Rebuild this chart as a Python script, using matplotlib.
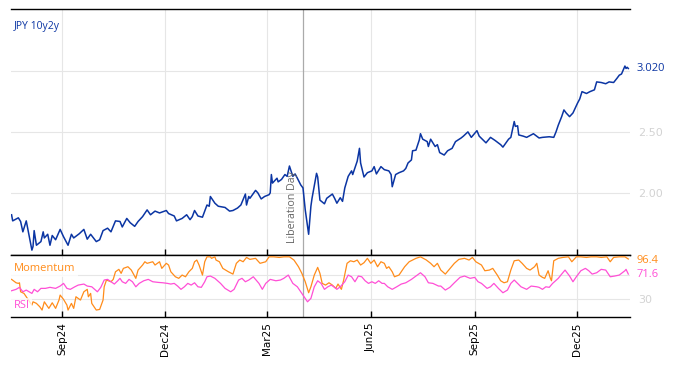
import numpy as np
import pandas as pd
import matplotlib
matplotlib.use("Agg")
import matplotlib.pyplot as plt
import matplotlib.dates as mdates

# JPY 10y2y curve
price_dates = [
    "2024-07-18", "2024-07-19", "2024-07-24", "2024-07-26", "2024-07-28", "2024-07-31",
    "2024-08-05", "2024-08-06", "2024-08-07", "2024-08-09", "2024-08-13", "2024-08-15",
    "2024-08-16", "2024-08-19", "2024-08-21", "2024-08-23", "2024-08-26", "2024-08-30",
    "2024-09-02", "2024-09-06", "2024-09-09", "2024-09-11", "2024-09-16", "2024-09-20",
    "2024-09-23", "2024-09-26", "2024-10-01", "2024-10-04", "2024-10-07", "2024-10-11",
    "2024-10-14", "2024-10-18", "2024-10-22", "2024-10-24", "2024-10-28", "2024-10-31",
    "2024-11-04", "2024-11-07", "2024-11-11", "2024-11-15", "2024-11-18", "2024-11-22",
    "2024-11-26", "2024-12-02", "2024-12-04", "2024-12-09", "2024-12-11", "2024-12-16",
    "2024-12-20", "2024-12-23", "2024-12-25", "2024-12-27", "2024-12-30", "2025-01-03",
    "2025-01-07", "2025-01-09", "2025-01-10", "2025-01-14", "2025-01-17", "2025-01-23",
    "2025-01-27", "2025-01-30", "2025-02-03", "2025-02-06", "2025-02-10", "2025-02-11",
    "2025-02-13", "2025-02-14", "2025-02-19", "2025-02-21", "2025-02-24", "2025-02-27",
    "2025-03-03", "2025-03-04", "2025-03-05", "2025-03-06", "2025-03-10", "2025-03-11",
    "2025-03-14", "2025-03-17", "2025-03-19", "2025-03-21", "2025-03-24", "2025-03-26",
    "2025-03-28", "2025-03-31", "2025-04-02", "2025-04-04", "2025-04-07", "2025-04-09",
    "2025-04-10", "2025-04-14", "2025-04-15", "2025-04-17", "2025-04-21", "2025-04-23",
    "2025-04-28", "2025-04-30", "2025-05-02", "2025-05-05", "2025-05-07", "2025-05-09",
    "2025-05-12", "2025-05-15", "2025-05-16", "2025-05-20", "2025-05-22", "2025-05-23",
    "2025-05-26", "2025-05-29", "2025-06-02", "2025-06-04", "2025-06-06", "2025-06-10",
    "2025-06-13", "2025-06-17", "2025-06-19", "2025-06-20", "2025-06-23", "2025-06-26",
    "2025-06-30", "2025-07-02", "2025-07-04", "2025-07-07", "2025-07-08", "2025-07-11",
    "2025-07-14", "2025-07-15", "2025-07-17", "2025-07-21", "2025-07-22", "2025-07-24",
    "2025-07-28", "2025-07-30", "2025-08-01", "2025-08-05", "2025-08-08", "2025-08-12",
    "2025-08-15", "2025-08-20", "2025-08-22", "2025-08-26", "2025-08-29", "2025-09-03",
    "2025-09-05", "2025-09-11", "2025-09-15", "2025-09-19", "2025-09-24", "2025-09-26",
    "2025-10-01", "2025-10-03", "2025-10-06", "2025-10-07", "2025-10-09", "2025-10-10",
    "2025-10-14", "2025-10-17", "2025-10-23", "2025-10-28", "2025-10-31", "2025-11-06",
    "2025-11-10", "2025-11-12", "2025-11-14", "2025-11-17", "2025-11-19", "2025-11-21",
    "2025-11-24", "2025-11-27", "2025-12-01", "2025-12-03", "2025-12-05", "2025-12-09",
    "2025-12-12", "2025-12-16", "2025-12-18", "2025-12-22", "2025-12-26", "2025-12-29",
    "2026-01-02", "2026-01-05", "2026-01-07", "2026-01-09", "2026-01-12", "2026-01-13",
    "2026-01-14", "2026-01-15",
]
price_vals = [
    1.82, 1.77, 1.795, 1.765, 1.68, 1.77,
    1.53, 1.56, 1.69, 1.57, 1.60, 1.68,
    1.63, 1.66, 1.57, 1.65, 1.615, 1.70,
    1.64, 1.57, 1.66, 1.63, 1.665, 1.70,
    1.62, 1.66, 1.60, 1.615, 1.69, 1.71,
    1.68, 1.77, 1.765, 1.72, 1.79, 1.755,
    1.725, 1.765, 1.805, 1.86, 1.82, 1.85,
    1.835, 1.855, 1.83, 1.81, 1.77, 1.79,
    1.82, 1.78, 1.805, 1.855, 1.81, 1.80,
    1.90, 1.89, 1.97, 1.915, 1.89, 1.88,
    1.85, 1.855, 1.875, 1.90, 1.99, 1.90,
    1.97, 1.955, 2.02, 2.00, 1.95, 1.97,
    1.985, 2.00, 2.15, 2.08, 2.12, 2.09,
    2.11, 2.15, 2.135, 2.22, 2.135, 2.155,
    2.12, 2.065, 2.04, 1.86, 1.66, 1.89,
    1.955, 2.16, 2.13, 1.94, 1.91, 1.955,
    1.99, 1.955, 1.915, 1.96, 1.93, 2.04,
    2.135, 2.18, 2.15, 2.26, 2.365, 2.245,
    2.13, 2.165, 2.18, 2.215, 2.155, 2.215,
    2.19, 2.18, 2.15, 2.05, 2.15, 2.165,
    2.18, 2.20, 2.245, 2.27, 2.345, 2.35,
    2.435, 2.485, 2.44, 2.42, 2.38, 2.44,
    2.38, 2.395, 2.33, 2.31, 2.345, 2.365,
    2.42, 2.45, 2.465, 2.50, 2.455, 2.51,
    2.465, 2.41, 2.455, 2.43, 2.395, 2.375,
    2.44, 2.455, 2.585, 2.545, 2.55, 2.475,
    2.465, 2.455, 2.485, 2.45, 2.455, 2.46,
    2.455, 2.50, 2.555, 2.625, 2.68, 2.655,
    2.625, 2.655, 2.735, 2.77, 2.83, 2.815,
    2.83, 2.845, 2.91, 2.905, 2.895, 2.91,
    2.905, 2.94, 2.965, 2.975, 3.04, 3.02,
    3.03, 3.02,
]

# Momentum oscillator
mom_dates = [
    "2024-07-18", "2024-07-22", "2024-07-24", "2024-07-25", "2024-07-26", "2024-07-29",
    "2024-07-31", "2024-08-05", "2024-08-06", "2024-08-09", "2024-08-12", "2024-08-14",
    "2024-08-16", "2024-08-20", "2024-08-23", "2024-08-26", "2024-08-29", "2024-08-30",
    "2024-09-02", "2024-09-05", "2024-09-06", "2024-09-09", "2024-09-11", "2024-09-13",
    "2024-09-17", "2024-09-20", "2024-09-23", "2024-09-24", "2024-09-26", "2024-09-27",
    "2024-10-01", "2024-10-04", "2024-10-07", "2024-10-08", "2024-10-10", "2024-10-14",
    "2024-10-16", "2024-10-18", "2024-10-21", "2024-10-23", "2024-10-25", "2024-10-29",
    "2024-11-01", "2024-11-05", "2024-11-07", "2024-11-11", "2024-11-13", "2024-11-15",
    "2024-11-20", "2024-11-22", "2024-11-26", "2024-11-28", "2024-12-02", "2024-12-04",
    "2024-12-06", "2024-12-10", "2024-12-13", "2024-12-16", "2024-12-19", "2024-12-22",
    "2024-12-25", "2024-12-27", "2024-12-29", "2024-12-31", "2025-01-03", "2025-01-05",
    "2025-01-07", "2025-01-10", "2025-01-11", "2025-01-14", "2025-01-15", "2025-01-18",
    "2025-01-21", "2025-01-26", "2025-01-30", "2025-02-02", "2025-02-05", "2025-02-08",
    "2025-02-11", "2025-02-14", "2025-02-19", "2025-02-23", "2025-02-28", "2025-03-03",
    "2025-03-07", "2025-03-12", "2025-03-16", "2025-03-21", "2025-03-25", "2025-03-29",
    "2025-04-01", "2025-04-04", "2025-04-07", "2025-04-09", "2025-04-12", "2025-04-15",
    "2025-04-17", "2025-04-19", "2025-04-22", "2025-04-25", "2025-04-28", "2025-05-01",
    "2025-05-03", "2025-05-06", "2025-05-08", "2025-05-11", "2025-05-14", "2025-05-17",
    "2025-05-20", "2025-05-23", "2025-05-26", "2025-05-29", "2025-06-01", "2025-06-04",
    "2025-06-07", "2025-06-10", "2025-06-13", "2025-06-15", "2025-06-17", "2025-06-20",
    "2025-06-22", "2025-06-26", "2025-07-01", "2025-07-05", "2025-07-11", "2025-07-15",
    "2025-07-20", "2025-07-24", "2025-07-27", "2025-07-30", "2025-08-02", "2025-08-06",
    "2025-08-09", "2025-08-14", "2025-08-18", "2025-08-23", "2025-08-27", "2025-08-30",
    "2025-09-02", "2025-09-07", "2025-09-10", "2025-09-14", "2025-09-17", "2025-09-21",
    "2025-09-24", "2025-09-27", "2025-09-30", "2025-10-03", "2025-10-06", "2025-10-10",
    "2025-10-13", "2025-10-17", "2025-10-20", "2025-10-24", "2025-10-26", "2025-10-28",
    "2025-10-31", "2025-11-02", "2025-11-05", "2025-11-07", "2025-11-08", "2025-11-10",
    "2025-11-14", "2025-11-18", "2025-11-23", "2025-11-26", "2025-11-30", "2025-12-04",
    "2025-12-09", "2025-12-13", "2025-12-18", "2025-12-22", "2025-12-27", "2025-12-30",
    "2026-01-02", "2026-01-07", "2026-01-12", "2026-01-15",
]
mom_vals = [
    62.9, 57.3, 56.3, 57.3, 42.5, 39.8,
    34.3, 20.6, 26.0, 23.4, 17.8, 12.4,
    26.0, 15.2, 24.4, 15.2, 28.9, 37.1,
    30.0, 20.6, 12.4, 23.4, 15.2, 34.3,
    28.9, 42.5, 46.5, 34.3, 39.8, 23.4,
    12.4, 13.5, 28.9, 50.7, 61.8, 59.0,
    62.9, 75.4, 79.4, 72.8, 81.0, 83.7,
    78.2, 64.6, 78.2, 86.5, 91.9, 89.3,
    91.9, 86.5, 91.9, 81.0, 89.3, 86.5,
    75.4, 67.2, 64.6, 70.0, 67.2, 75.4,
    81.0, 91.9, 94.7, 86.5, 70.0, 91.9,
    100.0, 100.0, 97.5, 100.0, 94.7, 91.9,
    81.0, 75.4, 71.6, 89.3, 94.7, 91.9,
    99.0, 95.8, 97.5, 89.3, 91.9, 100.0,
    100.0, 99.0, 100.0, 100.0, 94.7, 83.7,
    72.8, 59.0, 40.9, 50.7, 70.0, 82.6,
    72.8, 56.3, 53.5, 57.3, 53.5, 48.1,
    55.2, 46.5, 61.8, 89.3, 93.5, 91.9,
    94.7, 86.5, 90.3, 97.5, 89.3, 94.7,
    83.7, 91.9, 89.3, 81.0, 83.7, 75.4,
    67.2, 70.0, 83.7, 91.9, 97.5, 100.0,
    95.0, 89.3, 83.7, 89.3, 78.2, 71.6,
    78.2, 89.3, 95.8, 97.5, 94.7, 99.0,
    91.9, 86.5, 77.1, 78.2, 81.0, 70.0,
    60.6, 57.3, 59.0, 78.2, 93.5, 94.7,
    89.3, 81.0, 78.2, 83.7, 89.3, 70.0,
    66.2, 64.6, 77.1, 64.6, 60.6, 93.5,
    97.5, 99.0, 100.0, 91.9, 100.0, 100.0,
    99.0, 100.0, 100.0, 99.0, 100.0, 91.9,
    99.0, 100.0, 100.0, 96.4,
]

# RSI
rsi_dates = [
    "2024-07-18", "2024-07-22", "2024-07-25", "2024-07-28", "2024-07-31", "2024-08-05",
    "2024-08-07", "2024-08-10", "2024-08-13", "2024-08-17", "2024-08-21", "2024-08-26",
    "2024-08-30", "2024-09-02", "2024-09-05", "2024-09-08", "2024-09-12", "2024-09-15",
    "2024-09-20", "2024-09-23", "2024-09-27", "2024-10-02", "2024-10-05", "2024-10-08",
    "2024-10-11", "2024-10-14", "2024-10-17", "2024-10-20", "2024-10-22", "2024-10-24",
    "2024-10-27", "2024-10-30", "2024-11-02", "2024-11-05", "2024-11-08", "2024-11-12",
    "2024-11-16", "2024-11-20", "2024-11-25", "2024-11-29", "2024-12-03", "2024-12-06",
    "2024-12-09", "2024-12-12", "2024-12-15", "2024-12-18", "2024-12-21", "2024-12-24",
    "2024-12-27", "2024-12-30", "2025-01-02", "2025-01-05", "2025-01-07", "2025-01-10",
    "2025-01-14", "2025-01-19", "2025-01-23", "2025-01-28", "2025-01-31", "2025-02-04",
    "2025-02-07", "2025-02-10", "2025-02-13", "2025-02-17", "2025-02-22", "2025-02-25",
    "2025-02-28", "2025-03-04", "2025-03-09", "2025-03-13", "2025-03-16", "2025-03-20",
    "2025-03-24", "2025-03-28", "2025-03-31", "2025-04-03", "2025-04-06", "2025-04-09",
    "2025-04-12", "2025-04-15", "2025-04-18", "2025-04-21", "2025-04-24", "2025-04-27",
    "2025-04-30", "2025-05-02", "2025-05-05", "2025-05-09", "2025-05-12", "2025-05-15",
    "2025-05-18", "2025-05-21", "2025-05-24", "2025-05-27", "2025-05-30", "2025-06-02",
    "2025-06-05", "2025-06-08", "2025-06-11", "2025-06-13", "2025-06-16", "2025-06-20",
    "2025-06-24", "2025-06-28", "2025-07-02", "2025-07-07", "2025-07-11", "2025-07-15",
    "2025-07-19", "2025-07-22", "2025-07-26", "2025-07-31", "2025-08-02", "2025-08-06",
    "2025-08-10", "2025-08-14", "2025-08-19", "2025-08-23", "2025-08-28", "2025-09-01",
    "2025-09-04", "2025-09-07", "2025-09-12", "2025-09-15", "2025-09-18", "2025-09-22",
    "2025-09-26", "2025-09-30", "2025-10-03", "2025-10-06", "2025-10-09", "2025-10-12",
    "2025-10-17", "2025-10-21", "2025-10-26", "2025-10-28", "2025-10-31", "2025-11-03",
    "2025-11-06", "2025-11-09", "2025-11-14", "2025-11-17", "2025-11-20", "2025-11-24",
    "2025-11-27", "2025-11-30", "2025-12-04", "2025-12-08", "2025-12-11", "2025-12-14",
    "2025-12-18", "2025-12-22", "2025-12-26", "2025-12-30", "2026-01-03", "2026-01-07",
    "2026-01-12", "2026-01-13", "2026-01-15",
]
rsi_vals = [
    44.2, 46.5, 49.8, 42.5, 45.3, 39.8,
    46.5, 42.5, 48.1, 48.1, 49.8, 48.1,
    51.9, 56.3, 48.1, 46.5, 50.7, 53.5,
    55.2, 51.9, 50.7, 42.5, 49.8, 61.8,
    62.9, 59.0, 55.2, 60.6, 64.6, 59.0,
    56.3, 62.9, 59.0, 50.7, 56.3, 60.6,
    62.9, 59.0, 57.9, 57.3, 56.3, 55.2,
    56.3, 51.9, 46.5, 50.7, 56.3, 53.5,
    57.3, 50.7, 49.8, 59.0, 67.2, 68.4,
    64.6, 56.3, 48.1, 42.5, 46.5, 61.8,
    64.6, 59.0, 61.8, 67.2, 56.3, 46.5,
    56.3, 62.9, 60.6, 61.8, 64.6, 70.0,
    56.3, 50.7, 42.5, 34.3, 26.0, 31.6,
    50.7, 60.6, 56.3, 46.5, 50.7, 53.5,
    49.8, 46.5, 50.7, 59.0, 70.0, 67.2,
    59.0, 68.4, 67.2, 60.6, 56.3, 59.0,
    56.3, 60.6, 56.3, 56.3, 50.7, 46.5,
    50.7, 55.2, 57.3, 62.9, 68.4, 73.8,
    67.2, 57.3, 56.3, 51.9, 51.9, 45.3,
    49.8, 57.3, 66.2, 68.4, 64.6, 66.2,
    59.0, 56.3, 48.1, 50.7, 56.3, 48.1,
    40.9, 45.3, 56.3, 61.8, 56.3, 50.7,
    46.5, 51.9, 50.7, 49.8, 46.5, 50.7,
    49.8, 56.3, 64.6, 71.6, 78.2, 68.4,
    59.0, 67.2, 77.1, 81.0, 77.1, 71.6,
    73.8, 79.4, 78.2, 67.2, 68.4, 70.0,
    77.1, 79.4, 71.6,
]

event_date = "2025-04-02"
event_label = "Liberation Day"
tick_months = ["2024-09-01", "2024-12-01", "2025-03-01", "2025-06-01", "2025-09-01", "2025-12-01"]

price_dt = pd.to_datetime(price_dates)
mom_dt = pd.to_datetime(mom_dates)
rsi_dt = pd.to_datetime(rsi_dates)
ev_dt = pd.Timestamp(event_date)

blue = "#0b35a3"
orange = "#ff8c1a"
pink = "#ff4fd6"
grid_c = "#e6e6e6"
lab_grey = "#d3d3d3"

fig = plt.figure(figsize=(6.74, 3.66), dpi=100)
ax1 = fig.add_axes([11 / 674, 1 - 255 / 366, 619 / 674, 246 / 366])
ax2 = fig.add_axes([11 / 674, 1 - 317 / 366, 619 / 674, 62 / 366], sharex=ax1)

ax1.plot(price_dt, price_vals, color=blue, lw=1.1, zorder=3)
ax2.plot(mom_dt, mom_vals, color=orange, lw=0.9, zorder=3)
ax2.plot(rsi_dt, rsi_vals, color=pink, lw=0.9, zorder=3)

xmin = price_dt[0] - pd.Timedelta(days=0.5)
xmax = price_dt[-1] + pd.Timedelta(days=1.5)
ax1.set_xlim(xmin, xmax)
ax1.set_ylim(1.49, 3.508)
ax2.set_ylim(1.0, 103.0)

for ax in (ax1, ax2):
    for s in ("left", "right"):
        ax.spines[s].set_visible(False)
    ax.spines["top"].set_linewidth(1.0)
    ax.spines["bottom"].set_linewidth(1.0)
    ax.grid(True, color=grid_c, lw=0.8, zorder=0)
    ax.set_xticks(pd.to_datetime(tick_months))
    ax.xaxis.set_major_formatter(mdates.DateFormatter("%b%y"))
    ax.tick_params(axis="x", direction="in", length=4, width=1, top=False)
    ax.yaxis.tick_right()
    ax.tick_params(axis="y", length=0, labelsize=8, labelcolor=lab_grey, pad=6)
    ax.axvline(ev_dt, color="#aaaaaa", lw=0.9, zorder=2)

ax1.tick_params(axis="x", labelbottom=False)
ax2.tick_params(axis="x", labelrotation=90, labelsize=7.5, pad=4)

# 3.00 gridline label is covered by the last-value label in the reference
ax1.set_yticks([2.0, 2.5, 3.0])
ax1.set_yticklabels(["2.00", "2.50", ""])
ax2.set_yticks([30, 70])
ax2.set_yticklabels(["30", ""])

# last-value labels on the right
ax1.text(1.011, price_vals[-1], f"{price_vals[-1]:.3f}", transform=ax1.get_yaxis_transform(),
         color=blue, fontsize=8, va="center", ha="left", family="Open Sans")
ax2.text(1.011, mom_vals[-1] - 2.0, f"{mom_vals[-1]:.1f}", transform=ax2.get_yaxis_transform(),
         color=orange, fontsize=8, va="center", ha="left", family="Open Sans")
ax2.text(1.011, rsi_vals[-1] - 0.5, f"{rsi_vals[-1]:.1f}", transform=ax2.get_yaxis_transform(),
         color=pink, fontsize=8, va="center", ha="left", family="Open Sans")

# series titles
ax1.text(0.004, 0.93, "JPY 10y2y", transform=ax1.transAxes, color=blue, fontsize=7.5,
         family="Open Sans", va="center", ha="left")
ax2.text(0.004, 0.79, "Momentum", transform=ax2.transAxes, color=orange, fontsize=8,
         family="Open Sans", va="center", ha="left", zorder=5,
         bbox=dict(facecolor="white", edgecolor="none", alpha=0.8, pad=2.5))
ax2.text(0.004, 0.18, "RSI", transform=ax2.transAxes, color=pink, fontsize=8,
         family="Open Sans", va="center", ha="left", zorder=5,
         bbox=dict(facecolor="white", edgecolor="none", alpha=0.75, pad=2))

ax1.text(ev_dt - pd.Timedelta(days=4), 1.585, event_label, rotation=90, color="#666666",
         fontsize=7.7, family="Open Sans", ha="right", va="bottom")

fig.savefig("out.png", dpi=100)
